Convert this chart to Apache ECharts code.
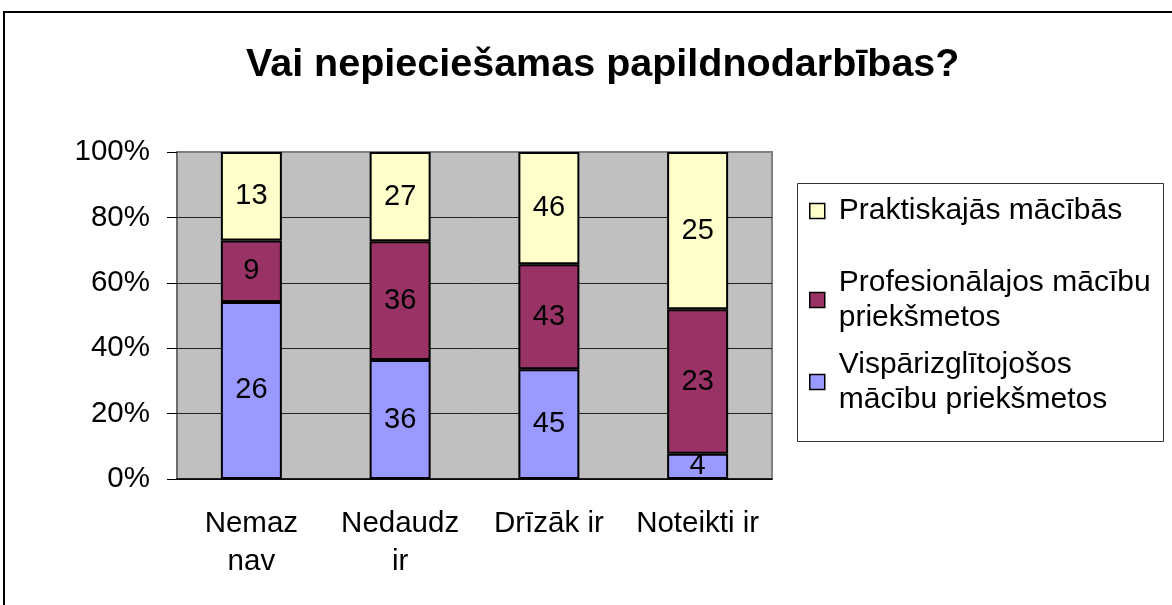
<!DOCTYPE html>
<html>
<head>
<meta charset="utf-8">
<script src="https://cdn.jsdelivr.net/npm/echarts@6/dist/echarts.min.js"></script>
<style>
  html, body { margin: 0; padding: 0; background: #fff; }
  #chart { width: 1172px; height: 605px; }
</style>
</head>
<body>
<div id="chart"></div>
<script>
// ── 数据 ──
const categories = ["Nemaz\nnav", "Nedaudz\nir", "Drīzāk ir", "Noteikti ir"];
const seriesNames = [
  "Vispārizglītojošos mācību priekšmetos",
  "Profesionālajos mācību priekšmetos",
  "Praktiskajās mācībās",
];
const legendLabels = [
  "Vispārizglītojošos\nmācību priekšmetos",
  "Profesionālajos mācību\npriekšmetos",
  "Praktiskajās mācībās",
];
const visparizglitojosos = [26, 36, 45, 4];
const profesionalajos = [9, 36, 43, 23];
const praktiskajas = [13, 27, 46, 25];
const yTicks = [0, 20, 40, 60, 80, 100];

const COLORS = ["#9999FF", "#993366", "#FFFFCC"];
const FONT = "'Liberation Sans', Arial, sans-serif";

const counts = [visparizglitojosos, profesionalajos, praktiskajas];
const totals = categories.map((_, i) => counts.reduce((s, arr) => s + arr[i], 0));

// 100% 堆叠：值转为百分比，标签显示原始数量
function toPercent(arr) {
  return arr.map((v, i) => ({ value: (v / totals[i]) * 100, count: v }));
}

const chart = echarts.init(document.getElementById("chart"));

const L = 35; // legend line height

function legendFor(idx, top, lines) {
  return {
    data: [seriesNames[idx]],
    orient: "vertical",
    left: 809,
    top: top,
    padding: 0,
    itemWidth: 15,
    itemHeight: 15,
    icon: "rect",
    itemStyle: { borderColor: "#000", borderWidth: 1.5 },
    formatter: () => legendLabels[idx],
    textStyle: {
      fontFamily: FONT,
      fontSize: 30,
      color: "#000",
      lineHeight: L,
      padding: lines > 1 ? [L, 0, 0, 9] : [0, 0, 0, 9],
    },
    selectedMode: false,
  };
}

chart.setOption({
  animation: false,
  title: {
    text: "Vai nepieciešamas papildnodarbības?",
    left: 246,
    top: 45,
    padding: 0,
    textStyle: {
      fontFamily: FONT,
      fontSize: 39.5,
      fontWeight: "bold",
      color: "#000",
    },
  },
  legend: [
    legendFor(2, 193.5, 1),
    legendFor(1, 247.5, 2),
    legendFor(0, 329.5, 2),
  ],
  graphic: [
    {
      type: "rect",
      shape: { x: 4, y: 12, width: 1200, height: 700 },
      style: { fill: "none", stroke: "#000", lineWidth: 2 },
      silent: true,
    },
    {
      type: "rect",
      shape: { x: 797.5, y: 183.5, width: 366, height: 258 },
      style: { fill: "none", stroke: "#333", lineWidth: 1 },
      silent: true,
    },
  ],
  grid: {
    left: 177,
    top: 152,
    width: 595,
    height: 327,
    show: true,
    backgroundColor: "#C0C0C0",
    borderColor: "#808080",
    borderWidth: 2,
  },
  xAxis: {
    type: "category",
    data: categories,
    axisLine: { lineStyle: { color: "#000", width: 1.5 } },
    axisTick: { length: 8, lineStyle: { color: "#000" } },
    axisLabel: {
      interval: 0,
      fontFamily: FONT,
      fontSize: 29.5,
      color: "#000",
      lineHeight: 38,
      margin: 26,
    },
  },
  yAxis: {
    type: "value",
    min: yTicks[0],
    max: yTicks[yTicks.length - 1],
    interval: 20,
    axisLine: { show: true, lineStyle: { color: "#666", width: 1.5 } },
    axisTick: { show: true, length: 10, lineStyle: { color: "#000" } },
    splitLine: {
      show: true,
      showMaxLine: false,
      lineStyle: { color: "#222", width: 1 },
    },
    axisLabel: {
      fontFamily: FONT,
      fontSize: 29.5,
      color: "#000",
      margin: 27,
      formatter: "{value}%",
    },
  },
  series: seriesNames.map((name, idx) => ({
    name: name,
    type: "bar",
    stack: "total",
    barWidth: 61,
    data: toPercent(counts[idx]),
    itemStyle: {
      color: COLORS[idx],
      borderColor: "#000",
      borderWidth: 2,
    },
    label: {
      show: true,
      position: "inside",
      fontFamily: FONT,
      fontSize: 29,
      color: "#000",
      formatter: (p) => String(p.data.count),
    },
  })),
});
</script>
</body>
</html>
